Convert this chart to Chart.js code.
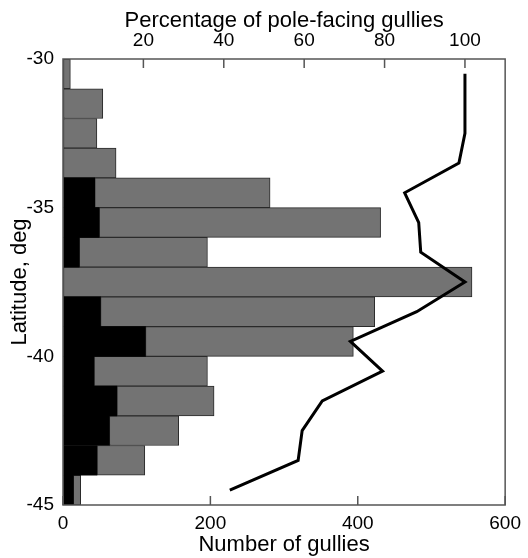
<!DOCTYPE html>
<html><head><meta charset="utf-8">
<script src="https://cdn.jsdelivr.net/npm/chart.js@4/dist/chart.umd.min.js"></script>
<style>html,body{margin:0;padding:0;background:#fff}</style>
</head><body>
<canvas id="c" width="528" height="558"></canvas>
<script>
// Latitude bin centres (deg)
const latitudeBins = [-30.5, -31.5, -32.5, -33.5, -34.5, -35.5, -36.5, -37.5, -38.5, -39.5, -40.5, -41.5, -42.5, -43.5, -44.5];
// Black part of each bar (count)
const blackCounts = [0, 0, 0, 0, 43, 49, 22, 0, 51, 112, 42, 73, 63, 46, 14];
// Total bar length (count)
const totalCounts = [10, 54, 46, 72, 281, 431, 196, 555, 423, 394, 196, 205, 157, 111, 24];
// Percentage of pole-facing gullies (line)
const poleFacingPct = [100, 100, 100, 98.5, 85, 88.5, 89, 100, 88, 71.5, 79.5, 64.5, 59.5, 58.5, 41.5];
// Tick labels
const countTicks = [0, 200, 400, 600];
const percentTicks = [20, 40, 60, 80, 100];
const latitudeTicks = [-30, -35, -40, -45];

Chart.defaults.font.family = "'Liberation Sans', Arial, Helvetica, sans-serif";
Chart.defaults.color = '#000';

const FONT_TICK = {size: 19};
const FONT_TITLE = {size: 22};

const framePlugin = {
  id: 'frame',
  afterDatasetsDraw(chart) {
    const {ctx, chartArea: a, scales} = chart;
    ctx.save();
    ctx.strokeStyle = '#555';
    ctx.lineWidth = 1.5;
    ctx.strokeRect(a.left, a.top, a.right - a.left, a.bottom - a.top);
    ctx.beginPath();
    countTicks.forEach(v => {
      const px = scales.x.getPixelForValue(v);
      ctx.moveTo(px, a.bottom); ctx.lineTo(px, a.bottom - 9);
    });
    percentTicks.forEach(v => {
      const px = scales.xTop.getPixelForValue(v);
      ctx.moveTo(px, a.top); ctx.lineTo(px, a.top + 9);
    });
    ctx.stroke();
    ctx.restore();
  }
};

new Chart(document.getElementById('c'), {
  type: 'bar',
  data: {
    datasets: [
      {
        type: 'line',
        indexAxis: 'y',
        data: latitudeBins.map((y, i) => ({x: poleFacingPct[i], y})),
        xAxisID: 'xTop', yAxisID: 'y',
        borderColor: '#000', borderWidth: 3, pointRadius: 0,
        fill: false, tension: 0, order: 0,
        borderJoinStyle: 'miter'
      },
      {
        type: 'bar',
        indexAxis: 'y',
        stack: 's',
        data: latitudeBins.map((y, i) => ({x: blackCounts[i], y})),
        xAxisID: 'x', yAxisID: 'y',
        backgroundColor: '#000', borderWidth: 0,
        categoryPercentage: 1, barPercentage: 1, order: 1
      },
      {
        type: 'bar',
        indexAxis: 'y',
        stack: 's',
        data: latitudeBins.map((y, i) => ({x: totalCounts[i] - blackCounts[i], y})),
        xAxisID: 'x', yAxisID: 'y',
        backgroundColor: '#737373', borderColor: '#2a2a2a', borderWidth: 1,
        borderSkipped: false,
        categoryPercentage: 1, barPercentage: 1, order: 2
      }
    ]
  },
  options: {
    indexAxis: 'y',
    responsive: false,
    animation: false,
    devicePixelRatio: 1,
    layout: {padding: {left: 0, right: 18, top: 0, bottom: 0}},
    plugins: {legend: {display: false}, tooltip: {enabled: false}},
    scales: {
      y: {
        type: 'linear', position: 'left', min: -45, max: -30, offset: false, stacked: true,
        afterBuildTicks: s => { s.ticks = latitudeTicks.map(v => ({value: v})); },
        afterFit: s => { s.width = 63; },
        ticks: {padding: 9, font: FONT_TICK, color: '#000'},
        grid: {drawOnChartArea: false, drawTicks: false, display: true},
        border: {display: false},
        title: {display: true, text: 'Latitude, deg', font: FONT_TITLE, color: '#000', padding: {top: 7, bottom: 0}}
      },
      x: {
        type: 'linear', position: 'bottom', min: 0, max: 600, stacked: true,
        afterBuildTicks: s => { s.ticks = countTicks.map(v => ({value: v})); },
        afterFit: s => { s.height = 53; },
        ticks: {padding: 7, font: FONT_TICK, color: '#000', maxRotation: 0},
        grid: {drawOnChartArea: false, drawTicks: false},
        border: {display: false},
        title: {display: true, text: 'Number of gullies', font: FONT_TITLE, color: '#000', padding: {top: 0, bottom: 0}}
      },
      xTop: {
        type: 'linear', position: 'top', min: 0, max: 110,
        afterBuildTicks: s => { s.ticks = percentTicks.map(v => ({value: v})); },
        afterFit: s => { s.height = 59; },
        ticks: {padding: 7, font: FONT_TICK, color: '#000', maxRotation: 0},
        grid: {drawOnChartArea: false, drawTicks: false},
        border: {display: false},
        title: {display: true, text: 'Percentage of pole-facing gullies', font: FONT_TITLE, color: '#000', padding: {top: 8, bottom: 0}}
      }
    }
  },
  plugins: [framePlugin]
});
</script>
</body></html>
